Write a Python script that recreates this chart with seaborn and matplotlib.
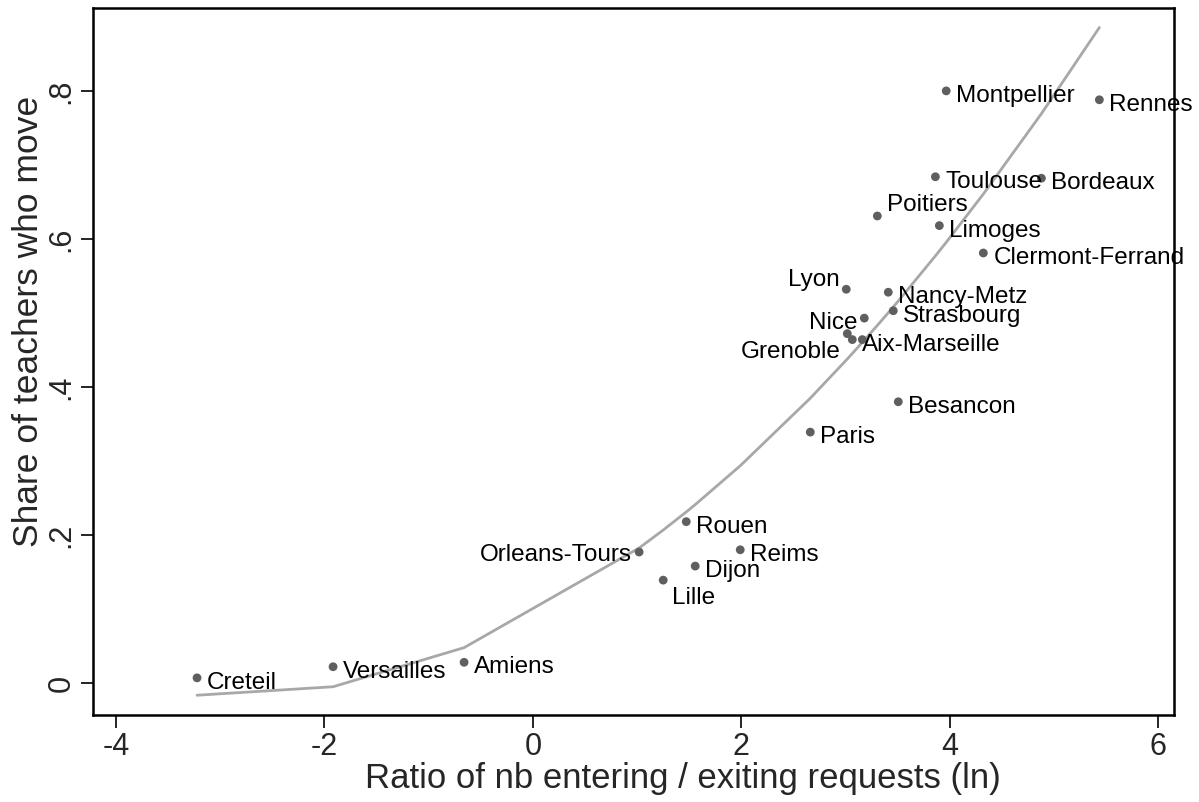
import numpy as np
import pandas as pd
import matplotlib
matplotlib.use("Agg")
import matplotlib.pyplot as plt
import seaborn as sns

# ---- data ----
academies = ["Creteil", "Versailles", "Amiens", "Orleans-Tours", "Lille", "Rouen",
             "Dijon", "Reims", "Paris", "Besancon", "Lyon", "Nice", "Grenoble",
             "Aix-Marseille", "", "Nancy-Metz", "Strasbourg", "Poitiers", "Limoges",
             "Toulouse", "Bordeaux", "Montpellier", "Rennes", "Clermont-Ferrand"]
log_ratio = [-3.222, -1.917, -0.660, 1.019, 1.250, 1.471,
             1.557, 1.989, 2.661, 3.505, 3.006, 3.179, 3.016,
             3.064, 3.160, 3.409, 3.457, 3.304, 3.899,
             3.861, 4.878, 3.965, 5.434, 4.321]
share_move = [0.007, 0.022, 0.028, 0.177, 0.139, 0.218,
              0.158, 0.180, 0.339, 0.380, 0.532, 0.493, 0.472,
              0.464, 0.464, 0.528, 0.503, 0.631, 0.618,
              0.684, 0.682, 0.800, 0.788, 0.581]
x_ticks = [-4, -2, 0, 2, 4, 6]
y_ticks = [0, 0.2, 0.4, 0.6, 0.8]
y_ticklabels = ["0", ".2", ".4", ".6", ".8"]

# label placement (pixel offsets, alignment) -- style only
label_style = {
    "Orleans-Tours": (-7, -3, "right"),
    "Lyon": (-7, 9, "right"),
    "Nice": (-7, -5, "right"),
    "Grenoble": (-7, -18, "right"),
    "Lille": (9, -18, "left"),
    "Poitiers": (10, 11, "left"),
}

df = pd.DataFrame({"academy": academies, "x": log_ratio, "y": share_move})

# quadratic fit evaluated at observed x values
coef = np.polyfit(df["x"], df["y"], 2)
fit = df[["x"]].copy().sort_values("x")
fit["yhat"] = np.polyval(coef, fit["x"])

sns.set_style("white")
plt.rcParams["font.family"] = ["Liberation Sans", "DejaVu Sans"]

fig = plt.figure(figsize=(11.99, 8.02), dpi=100)
ax = fig.add_axes([93 / 1199, 87 / 802, (1174 - 93) / 1199, (715 - 8) / 802])

sns.lineplot(data=fit, x="x", y="yhat", ax=ax, color="#a8a8a8", lw=2,
             estimator=None, sort=True, zorder=2)
sns.scatterplot(data=df, x="x", y="y", ax=ax, color="#5f5f5f", s=40,
                edgecolor="none", zorder=3)

for _, r in df.iterrows():
    if not r["academy"]:
        continue
    dx, dy, ha = label_style.get(r["academy"], (10, -5, "left"))
    ax.annotate(r["academy"], (r["x"], r["y"]), xytext=(dx, dy),
                textcoords="offset pixels", ha=ha, va="center",
                fontsize=17.5, color="black", zorder=4, annotation_clip=False)

ax.set_xlim(-4.22, 6.15)
ax.set_ylim(-0.0432, 0.912)
ax.set_xticks(x_ticks)
ax.set_xticklabels([str(t) for t in x_ticks], fontsize=22)
ax.set_yticks(y_ticks)
ax.set_yticklabels(y_ticklabels, fontsize=22, rotation=90, va="center")
ax.tick_params(axis="both", direction="out", length=9, width=1.2, color="black",
               bottom=True, left=True, top=False, right=False, pad=3)
for sp in ax.spines.values():
    sp.set_color("black")
    sp.set_linewidth(1.8)
ax.set_xlabel("Ratio of nb entering / exiting requests (ln)", fontsize=25)
ax.set_ylabel("Share of teachers who move", fontsize=25.5)
ax.xaxis.set_label_coords(0.546, -0.066)
ax.yaxis.set_label_coords(-0.044, 0.557)

fig.savefig("out.png", dpi=100)
